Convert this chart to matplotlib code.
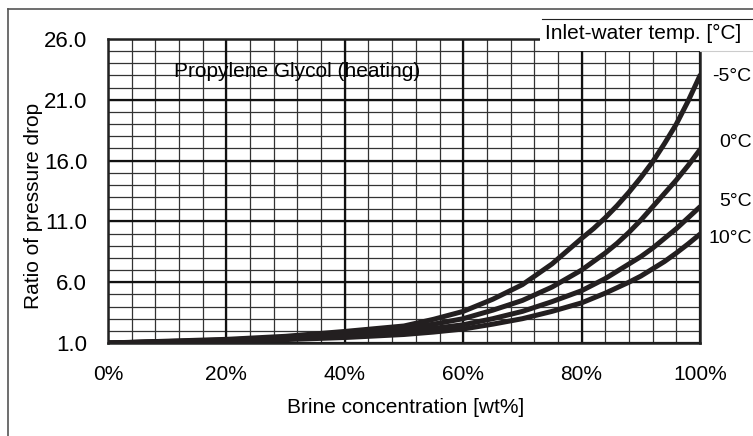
import matplotlib
matplotlib.use('Agg')
import matplotlib.pyplot as plt
from matplotlib.lines import Line2D
from matplotlib.patches import Rectangle

plt.rcParams['font.family'] = ['Liberation Sans', 'DejaVu Sans']

# brine concentration [wt%]
conc = [0, 10, 20, 30, 40, 50, 55, 60, 65, 70, 75, 80, 82, 84, 86, 88, 90, 92, 94, 96, 98, 100]
# ratio of pressure drop per inlet-water temperature
m5 = [1.0, 1.15, 1.3, 1.55, 1.95, 2.4, 2.95, 3.6, 4.6, 5.8, 7.5, 9.6, 10.4, 11.3, 12.3, 13.4,
      14.6, 15.9, 17.4, 19.0, 20.9, 23.0]
t0 = [1.0, 1.12, 1.25, 1.45, 1.8, 2.2, 2.55, 3.0, 3.7, 4.5, 5.6, 7.0, 7.7, 8.4, 9.2, 10.1,
      11.1, 12.2, 13.3, 14.4, 15.6, 16.9]
t5 = [1.0, 1.1, 1.2, 1.35, 1.6, 1.95, 2.2, 2.5, 3.0, 3.6, 4.4, 5.3, 5.8, 6.3, 6.9, 7.5,
      8.1, 8.8, 9.6, 10.4, 11.3, 12.2]
t10 = [1.0, 1.08, 1.15, 1.28, 1.45, 1.7, 1.9, 2.15, 2.55, 3.0, 3.6, 4.3, 4.7, 5.1, 5.55, 6.0,
       6.5, 7.1, 7.7, 8.4, 9.15, 9.95]
series = [m5, t0, t5, t10]
labels = ['-5°C', '0°C', '5°C', '10°C']
label_y = [22.9, 17.45, 12.6, 9.6]

xticks = [0, 20, 40, 60, 80, 100]
xticklabels = ['0%', '20%', '40%', '60%', '80%', '100%']
yticks = [1, 6, 11, 16, 21, 26]
yticklabels = ['1.0', '6.0', '11.0', '16.0', '21.0', '26.0']

fig = plt.figure(figsize=(7.53, 4.36), dpi=100)
ax = fig.add_axes([108 / 753, 1 - 343 / 436, 592 / 753, 304 / 436])
ax.set_xlim(0, 100)
ax.set_ylim(1, 26)

# minor grid
for x in range(4, 100, 4):
    ax.axvline(x, color='#333333', lw=0.9, zorder=1)
for y in range(2, 26):
    ax.axhline(y, color='#333333', lw=0.9, zorder=1)
# major grid
for x in xticks:
    ax.axvline(x, color='#111111', lw=1.6, zorder=1)
for y in yticks:
    ax.axhline(y, color='#111111', lw=1.6, zorder=1)

for s in series:
    ax.plot(conc, s, color='#231f20', lw=3.6, solid_capstyle='round',
            solid_joinstyle='round', zorder=3)

for lab, y in zip(labels, label_y):
    ax.text(1.087, (y - 1) / 25, lab, transform=ax.transAxes, ha='right',
            va='center', fontsize=14, clip_on=False)

ax.text(11.2, 23.3, 'Propylene Glycol (heating)', fontsize=15, va='center',
        ha='left', zorder=2)

for sp in ax.spines.values():
    sp.set_linewidth(1.8)
    sp.set_color('#222222')

ax.set_xticks(xticks)
ax.set_xticklabels(xticklabels, fontsize=15)
ax.set_yticks(yticks)
ax.set_yticklabels(yticklabels, fontsize=16)
ax.tick_params(length=0)
ax.tick_params(axis='x', pad=16)
ax.tick_params(axis='y', pad=15)

fig.text(406 / 753, 1 - 407 / 436, 'Brine concentration [wt%]', fontsize=15,
         ha='center', va='center')
fig.text(34 / 753, 1 - 206 / 436, 'Ratio of pressure drop', fontsize=15,
         ha='center', va='center', rotation=90)

# legend title box
fig.patches.append(Rectangle((540 / 753, 1 - 51 / 436), 220 / 753, 32 / 436,
                             transform=fig.transFigure, facecolor='white',
                             edgecolor='none', zorder=5))
fig.lines.append(Line2D([542 / 753, 1], [1 - 19 / 436, 1 - 19 / 436],
                        transform=fig.transFigure, color='#222222', lw=0.8, zorder=6))
fig.lines.append(Line2D([700 / 753, 1], [1 - 51 / 436, 1 - 51 / 436],
                        transform=fig.transFigure, color='#cccccc', lw=0.8, zorder=6))
fig.text(545 / 753, 1 - 33 / 436, 'Inlet-water temp. [°C]', fontsize=15,
         va='center', ha='left', zorder=7)

# outer frame
fig.lines.append(Line2D([8 / 753, 1], [1 - 9 / 436, 1 - 9 / 436],
                        transform=fig.transFigure, color='#555555', lw=1.2))
fig.lines.append(Line2D([8 / 753, 8 / 753], [0, 1 - 9 / 436],
                        transform=fig.transFigure, color='#555555', lw=1.2))

fig.savefig('out.png', dpi=100)
